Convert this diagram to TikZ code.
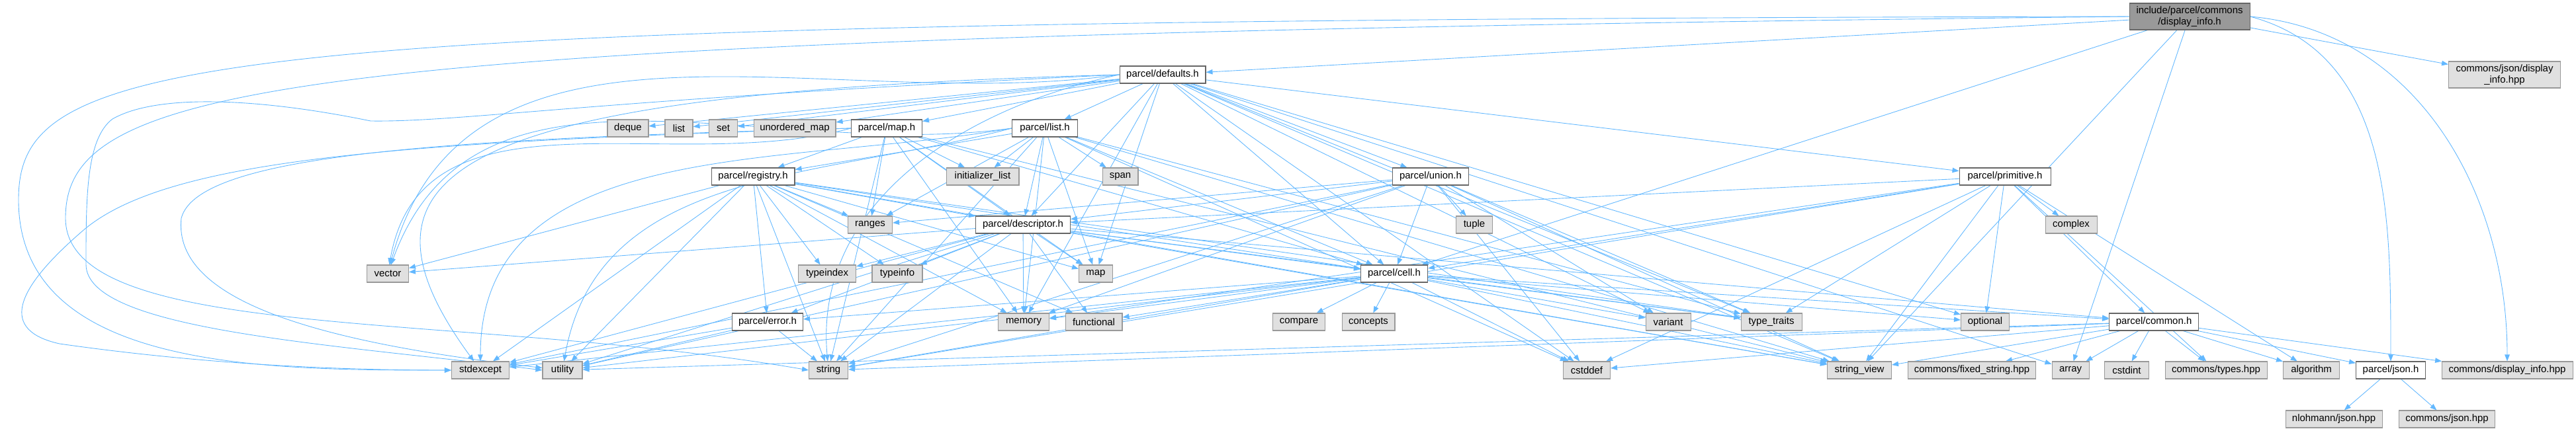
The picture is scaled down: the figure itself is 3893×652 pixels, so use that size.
\documentclass[tikz,border=0pt]{standalone}
\usepackage{fontspec}
\setmainfont{Liberation Sans}
\usetikzlibrary{arrows.meta,backgrounds}
\definecolor{edgeblue}{HTML}{63B8FF}
\definecolor{sysfill}{HTML}{E0E0E0}
\definecolor{sysline}{HTML}{999999}
\definecolor{rootfill}{HTML}{999999}
\definecolor{fileline}{HTML}{666666}
\tikzset{
  box/.style={rectangle, inner sep=1pt, minimum height=0.52cm, line width=0.6pt,
              font=\fontsize{8.5}{10}\selectfont},
  sysfile/.style={box, fill=sysfill, draw=sysline},
  ownfile/.style={box, fill=white, draw=fileline},
  rootfile/.style={box, fill=rootfill, draw=fileline, minimum height=0.8cm, align=center},
  dep/.style={draw=edgeblue, line width=0.5pt, -{Triangle[length=0.2cm,width=0.15cm]}},
}

\begin{document}
\begin{tikzpicture}[x=0.02cm, y=-0.02cm]
    \useasboundingbox (0,0) rectangle (3893,652);

    % the file itself
    \node[rootfile, minimum width=3.64cm] (displayinfo) at (3309,25) {include/parcel/commons\\/display\_info.h};
    \node[sysfile, minimum width=3.38cm, minimum height=0.8cm, align=center] (jsondisp) at (3785,113) {commons/json/display\\\_info.hpp};

    % parcel headers
    \node[ownfile, minimum width=2.6cm]  (defaults)   at (1757,113) {parcel/defaults.h};
    \node[ownfile, minimum width=2.14cm] (maph)       at (1340,194) {parcel/map.h};
    \node[ownfile, minimum width=1.98cm] (listh)      at (1579,194) {parcel/list.h};
    \node[ownfile, minimum width=2.52cm] (registry)   at (1138,267) {parcel/registry.h};
    \node[ownfile, minimum width=2.3cm]  (unionh)     at (2162,267) {parcel/union.h};
    \node[ownfile, minimum width=2.76cm] (primitive)  at (3030,267) {parcel/primitive.h};
    \node[ownfile, minimum width=2.86cm] (descriptor) at (1546,340) {parcel/descriptor.h};
    \node[ownfile, minimum width=2.02cm] (cell)       at (2107,414) {parcel/cell.h};
    \node[ownfile, minimum width=2.14cm] (error)      at (1160,487) {parcel/error.h};
    \node[ownfile, minimum width=2.7cm]  (common)     at (3255,487) {parcel/common.h};
    \node[ownfile, minimum width=2.1cm]  (json)       at (3613,560) {parcel/json.h};

    % other headers
    \node[sysfile, minimum width=1.24cm] (deque)      at (949,194)  {deque};
    \node[sysfile, minimum width=0.84cm] (list)       at (1026,194) {list};
    \node[sysfile, minimum width=0.86cm] (set)        at (1093,194) {set};
    \node[sysfile, minimum width=2.48cm] (umap)       at (1201,194) {unordered\_map};
    \node[sysfile, minimum width=2.2cm]  (initlist)   at (1485,267) {initializer\_list};
    \node[sysfile, minimum width=1.08cm] (span)       at (1693,267) {span};
    \node[sysfile, minimum width=1.34cm] (ranges)     at (1315,340) {ranges};
    \node[sysfile, minimum width=1.1cm]  (tuple)      at (2228,340) {tuple};
    \node[sysfile, minimum width=1.56cm] (complex)    at (3130,340) {complex};
    \node[sysfile, minimum width=1.26cm] (vector)     at (586,414)  {vector};
    \node[sysfile, minimum width=1.74cm] (typeindex)  at (1250,414) {typeindex};
    \node[sysfile, minimum width=1.52cm] (typeinfo)   at (1356,414) {typeinfo};
    \node[sysfile, minimum width=1.02cm] (map)        at (1656,414) {map};
    \node[sysfile, minimum width=1.54cm] (memory)     at (1547,487) {memory};
    \node[sysfile, minimum width=1.72cm] (functional) at (1653,487) {functional};
    \node[sysfile, minimum width=1.58cm] (compare)    at (1963,487) {compare};
    \node[sysfile, minimum width=1.6cm]  (concepts)   at (2068,487) {concepts};
    \node[sysfile, minimum width=1.36cm] (variant)    at (2521,487) {variant};
    \node[sysfile, minimum width=1.84cm] (typetraits) at (2677,487) {type\_traits};
    \node[sysfile, minimum width=1.46cm] (optional)   at (3000,487) {optional};
    \node[sysfile, minimum width=1.74cm] (stdexcept)  at (726,560)  {stdexcept};
    \node[sysfile, minimum width=1.2cm]  (utility)    at (850,560)  {utility};
    \node[sysfile, minimum width=1.18cm] (string)     at (1252,560) {string};
    \node[sysfile, minimum width=1.42cm] (cstddef)    at (2398,560) {cstddef};
    \node[sysfile, minimum width=1.94cm] (strview)    at (2810,560) {string\_view};
    \node[sysfile, minimum width=3.86cm] (fixstr)     at (2980,560) {commons/fixed\_string.hpp};
    \node[sysfile, minimum width=1.12cm] (array)      at (3129,560) {array};
    \node[sysfile, minimum width=1.34cm] (cstdint)    at (3214,560) {cstdint};
    \node[sysfile, minimum width=3.08cm] (types)      at (3349,560) {commons/types.hpp};
    \node[sysfile, minimum width=1.7cm]  (algorithm)  at (3493,560) {algorithm};
    \node[sysfile, minimum width=3.96cm] (dispinfo)   at (3789,560) {commons/display\_info.hpp};
    \node[sysfile, minimum width=2.92cm] (nlohmann)   at (3527,634) {nlohmann/json.hpp};
    \node[sysfile, minimum width=2.9cm]  (cjson)      at (3698,634) {commons/json.hpp};

    \begin{scope}[on background layer]
        % includes of the file itself
        \foreach \t in {defaults,jsondisp,cell,strview,array}
            \draw[dep] (displayinfo) -- (\t);
        \draw[dep] (displayinfo.east) to[out=-15,in=90] (json);
        \draw[dep] (displayinfo.east) to[out=-5,in=90] (dispinfo);
        \draw[dep] (displayinfo.west) .. controls (300,30) and (30,80) .. (28,300)
                                      .. controls (26,560) and (400,560) .. (stdexcept.west);
        \draw[dep] (displayinfo.west) .. controls (450,55) and (99,120) .. (99,330)
                                      .. controls (99,520) and (700,470) .. (string.west);

        % parcel/defaults.h
        \foreach \t in {deque,list,set,umap,maph,listh,unionh,primitive,memory,map,cstddef,
                        strview,typetraits,variant,optional,array,cell,descriptor}
            \draw[dep] (defaults) -- (\t);
        \draw[dep] (defaults.west) to[out=188,in=75] (vector);
        \draw[dep] (defaults.west) .. controls (700,140) and (500,250) .. (stdexcept);
        \draw[dep] (defaults.west) .. controls (900,150) and (700,185) .. (560,183)
                                   .. controls (400,150) and (240,140) .. (170,180)
                                   .. controls (130,210) and (130,300) .. (130,400)
                                   .. controls (130,500) and (500,520) .. (utility.west);
        \draw[dep] (defaults.west) to[out=192,in=95] (string);

        % parcel/map.h
        \foreach \t in {registry,initlist,ranges,string,memory,map,descriptor,cell,strview}
            \draw[dep] (maph) -- (\t);
        \draw[dep] (maph.west) to[out=195,in=80] (vector);
        \draw[dep] (maph.west) .. controls (600,215) and (250,240) .. (124,350)
                               .. controls (20,440) and (0,500) .. (90,520)
                               .. controls (300,550) and (500,560) .. (stdexcept.west);
        \draw[dep] (maph.west) .. controls (700,210) and (300,230) .. (274,330)
                               .. controls (260,460) and (500,520) .. (utility);

        % parcel/list.h
        \foreach \t in {registry,initlist,span,ranges,descriptor,map,string,memory,cell,
                        cstddef,strview,typetraits}
            \draw[dep] (listh) -- (\t);
        \draw[dep] (listh.west) to[out=188,in=70] (vector);
        \draw[dep] (listh.west) to[out=190,in=90] (stdexcept);
        \draw[dep] (listh.west) to[out=195,in=80] (utility);

        % parcel/registry.h
        \foreach \t in {ranges,descriptor,typeindex,typeinfo,vector,stdexcept,utility,string,
                        memory,functional,map,cell,error,strview,typetraits}
            \draw[dep] (registry) -- (\t);

        % parcel/descriptor.h
        \foreach \t in {vector,typeindex,typeinfo,map,memory,string,stdexcept,utility,cell,
                        error,functional,strview,typetraits,common}
            \draw[dep] (descriptor) -- (\t);

        % parcel/union.h
        \foreach \t in {ranges,descriptor,cell,tuple,memory,utility,cstddef,variant,
                        typetraits,string,strview,stdexcept}
            \draw[dep] (unionh) -- (\t);

        % parcel/primitive.h
        \foreach \t in {descriptor,cell,complex,typetraits,strview,common,cstddef,algorithm,
                        memory,string,types,optional}
            \draw[dep] (primitive) -- (\t);

        % parcel/cell.h
        \foreach \t in {memory,functional,compare,concepts,variant,cstddef,common,strview,
                        error,string,utility,stdexcept,typetraits,optional}
            \draw[dep] (cell) -- (\t);

        % parcel/error.h
        \foreach \t in {stdexcept,utility,string}
            \draw[dep] (error) -- (\t);

        % parcel/common.h
        \foreach \t in {strview,fixstr,array,cstdint,types,algorithm,json,dispinfo,string,
                        cstddef,utility}
            \draw[dep] (common) -- (\t);

        % parcel/json.h
        \foreach \t in {nlohmann,cjson}
            \draw[dep] (json) -- (\t);
    \end{scope}
\end{tikzpicture}
\end{document}
